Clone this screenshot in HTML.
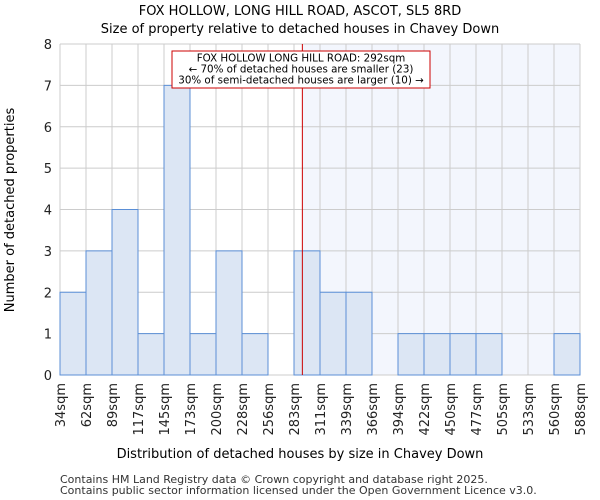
<!DOCTYPE html>
<html><head><meta charset="utf-8"><style>body{margin:0;background:#fff}svg{display:block;font-family:"DejaVu Sans","Liberation Sans",sans-serif}</style></head>
<body>
<svg id="c" width="600" height="500"></svg>
<script>
const categories=["34sqm","62sqm","89sqm","117sqm","145sqm","173sqm","200sqm","228sqm","256sqm","283sqm","311sqm","339sqm","366sqm","394sqm","422sqm","450sqm","477sqm","505sqm","533sqm","560sqm","588sqm"];
const counts=[2,3,4,1,7,1,3,1,0,3,2,2,0,1,1,1,1,0,0,1];
const yTicks=[0,1,2,3,4,5,6,7,8];
const edgeValues=[34,62,89,117,145,173,200,228,256,283,311,339,366,394,422,450,477,505,533,560,588];
const marker=292;
const L=60,R=580,T=44,B=375;
const ns="http://www.w3.org/2000/svg",svg=document.getElementById('c');
function mk(t,a,txt){const e=document.createElementNS(ns,t);for(const k in a)e.setAttribute(k,a[k]);if(txt!==undefined)e.textContent=txt;svg.appendChild(e);return e;}
const bw=(R-L)/counts.length;
const xi=i=>L+i*bw;
const y=v=>B-(v/8)*(B-T);
function xv(v){for(let i=0;i<edgeValues.length-1;i++){if(v<=edgeValues[i+1])return xi(i)+(v-edgeValues[i])/(edgeValues[i+1]-edgeValues[i])*bw;}return R;}
const mx=xv(marker);
let e=mk('rect',{x:mx,y:T,width:R-mx,height:B-T,fill:'#f3f6fd'});

yTicks.forEach(t=>{let g=mk('line',{x1:L,x2:R,y1:y(t),y2:y(t),stroke:'#cccccc'});
let l=mk('text',{x:L-8,y:y(t)+5,'text-anchor':'end','font-size':13,fill:'#222'},t);});
categories.forEach((c,i)=>{let g=mk('line',{x1:xi(i),x2:xi(i),y1:T,y2:B,stroke:'#cccccc'});
let l=mk('text',{transform:`translate(${xi(i)+5},${B+8}) rotate(-90)`,'text-anchor':'end','font-size':13,fill:'#222'},c);});
counts.forEach((v,i)=>{if(v<=0)return;let b=mk('rect',{x:xi(i),y:y(v),width:bw,height:B-y(v),fill:'#dce6f4',stroke:'#5b8fd6','stroke-width':1});});
e=mk('line',{x1:mx,x2:mx,y1:T,y2:B,stroke:'#cc0000','stroke-width':1});
e=mk('rect',{x:172,y:51,width:258,height:37,fill:'#fff',stroke:'#cc0000'});
[["FOX HOLLOW LONG HILL ROAD: 292sqm",61.5],["← 70% of detached houses are smaller (23)",72.5],["30% of semi-detached houses are larger (10) →",83.5]].forEach(a=>{let t=mk('text',{x:301,y:a[1],'text-anchor':'middle','font-size':10.3,fill:'#000'},a[0]);});
e=mk('text',{x:300,y:15,'text-anchor':'middle','font-size':13,fill:'#000'},'FOX HOLLOW, LONG HILL ROAD, ASCOT, SL5 8RD');
e=mk('text',{x:300,y:33,'text-anchor':'middle','font-size':13,fill:'#000'},'Size of property relative to detached houses in Chavey Down');
e=mk('text',{x:300,y:458,'text-anchor':'middle','font-size':13,fill:'#000'},'Distribution of detached houses by size in Chavey Down');
e=mk('text',{transform:'translate(14,210) rotate(-90)','text-anchor':'middle','font-size':13,fill:'#000'},'Number of detached properties');
e=mk('text',{x:60,y:483,'font-size':11,fill:'#333'},'Contains HM Land Registry data © Crown copyright and database right 2025.');
e=mk('text',{x:60,y:494,'font-size':11,fill:'#333'},'Contains public sector information licensed under the Open Government Licence v3.0.');
</script>
</body></html>
